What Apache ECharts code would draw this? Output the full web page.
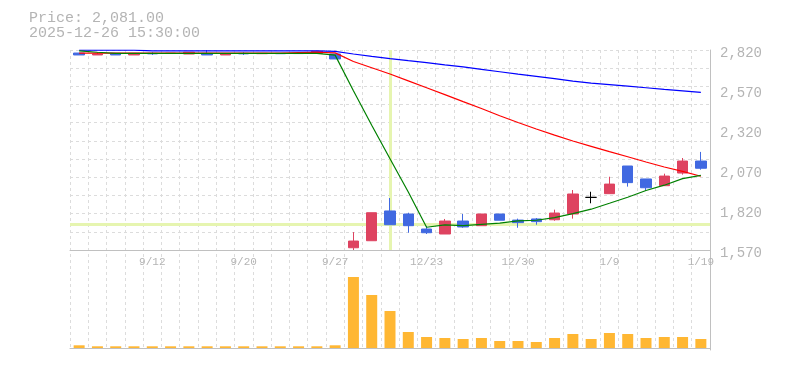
<!DOCTYPE html>
<html><head><meta charset="utf-8">
<script src="https://cdn.jsdelivr.net/npm/echarts@6/dist/echarts.min.js"></script>
<style>html,body{margin:0;padding:0;background:#fff}#c{width:785px;height:370px}</style>
</head><body><div id="c"></div>
<script>
const dates = ['9/6','9/9','9/10','9/11','9/12','9/13','9/17','9/18','9/19','9/20',
  '9/23','9/24','9/25','9/26','9/27','12/17','12/18','12/19','12/22','12/23',
  '12/24','12/25','12/26','12/29','12/30','1/5','1/6','1/7','1/8','1/9',
  '1/13','1/14','1/15','1/16','1/19'];
const opens  = [2801,2789,2799,2789,2799,2798,2795,2799,2789,2799,2797,2799,2798,2799,2795,
  1584,1628,1814,1795,1701,1670,1751,1722,1795,1757,1764,1759,1795,1899,1922,2095,2014,1972,2051,2126];
const closes = [2789,2795,2789,2799,2796,2800,2806,2789,2795,2796,2799,2797,2798,2812,2764,
  1626,1803,1728,1722,1678,1751,1714,1795,1756,1741,1747,1801,1920,1899,1982,1991,1959,2032,2126,2081];
const lows   = [2789,2789,2789,2789,2789,2798,2795,2789,2789,2789,2797,2797,2798,2799,2764,
  1570,1628,1728,1678,1670,1670,1709,1720,1756,1709,1728,1753,1766,1862,1922,1966,1941,1972,2041,2072];
const highs  = [2801,2806,2799,2799,2806,2800,2806,2820,2795,2806,2799,2799,2798,2812,2795,
  1682,1803,1895,1803,1720,1764,1795,1795,1795,1766,1770,1822,1945,1934,2028,2095,2014,2047,2145,2183];
const volumes = [27,17,17,17,17,17,17,17,17,17,17,17,17,17,27,
  710,530,370,160,110,100,90,100,70,70,60,100,140,90,150,140,100,110,110,90];
const ma5  = [2814,2806,2799,2799,2799,2799,2799,2799,2799,2799,2799,2799,2799,2799,2788,
  2565,2350,2140,1932,1712,1727,1722,1730,1738,1752,1756,1772,1797,1825,1862,1900,1942,1975,2016,2036];
const ma25 = [2800,2800,2800,2800,2800,2800,2800,2800,2800,2800,2800,2800,2803,2806,2802,
  2748,2709,2670,2627,2584,2541,2497,2454,2409,2367,2326,2288,2251,2218,2185,2153,2120,2089,2061,2031];
const ma75 = [2819,2819,2819,2819,2814,2814,2814,2814,2814,2814,2814,2814,2814,2814,2811,
  2795,2780,2766,2753,2741,2727,2714,2699,2684,2669,2655,2641,2626,2613,2604,2594,2584,2574,2565,2555];
const priceTicks = [1570,1820,2070,2320,2570,2820];
const crossIndex = 17;
const crossPrice = 1732;
const infoLines = ['Price: 2,081.00', '2025-12-26 15:30:00'];

const FONT = 'Liberation Mono';
const TXT = '#b4b4b4';
const AXIS = '#c0c0c0';
const GRIDC = '#dcdcdc';
const UP = '#de4360', DOWN = '#4169e1';

const candles = dates.map((d, i) => [opens[i], closes[i], lows[i], highs[i]]);
const fmt = v => v.toLocaleString('en-US');

const chart = echarts.init(document.getElementById('c'), null, {renderer: 'canvas'});
chart.setOption({
  animation: false,
  backgroundColor: '#fff',
  graphic: [
    {type: 'text', left: 29, top: 11, style: {text: infoLines[0], font: '15px "' + FONT + '"', fill: TXT}},
    {type: 'text', left: 29, top: 26, style: {text: infoLines[1], font: '15px "' + FONT + '"', fill: TXT}}
  ],
  grid: [
    {left: 70, top: 50, width: 640, height: 200},
    {left: 70, top: 270, width: 640, height: 80},
    {left: 70, top: 50, width: 640, height: 300}
  ],
  xAxis: [
    {type: 'category', gridIndex: 0, data: dates, boundaryGap: true,
     axisLine: {show: true, lineStyle: {color: AXIS, width: 1}}, axisTick: {show: false},
     axisLabel: {interval: (i) => i % 5 === 4, color: TXT, fontFamily: FONT, fontSize: 11, margin: 7},
     splitLine: {show: false}},
    {type: 'category', gridIndex: 1, data: dates, boundaryGap: true,
     axisLine: {show: true, lineStyle: {color: AXIS, width: 1}}, axisTick: {show: false},
     axisLabel: {show: false}, splitLine: {show: false}},
    {type: 'category', gridIndex: 2, data: dates, boundaryGap: true,
     axisLine: {show: false}, axisTick: {show: false}, axisLabel: {show: false},
     splitLine: {show: true, interval: 0, lineStyle: {color: GRIDC, type: [3, 3], width: 1}}}
  ],
  yAxis: [
    {type: 'value', gridIndex: 0, min: 1570, max: 2820, show: false, splitLine: {show: false}},
    {type: 'value', gridIndex: 0, position: 'right', min: 0, max: priceTicks[priceTicks.length - 1] - priceTicks[0], interval: 250,
     axisLine: {show: false}, axisTick: {show: false}, splitLine: {show: false},
     axisLabel: {margin: 10,
       formatter: (v, i) => '{p|' + fmt(priceTicks[i]) + '}',
       rich: {p: {color: TXT, fontFamily: FONT, fontSize: 14, padding: [6, 0, 0, 0]}}}},
    {type: 'value', gridIndex: 0, position: 'left', min: 0, max: 11, interval: 1,
     axisLine: {show: false}, axisTick: {show: false}, axisLabel: {show: false},
     splitLine: {show: true, lineStyle: {color: GRIDC, type: [3, 3], width: 1}}},
    {type: 'value', gridIndex: 1, min: -20, max: 780, show: false, splitLine: {show: false}},
    {type: 'value', gridIndex: 2, position: 'right', min: 0, max: 1,
     axisLine: {show: true, lineStyle: {color: AXIS, width: 1}}, axisTick: {show: false},
     axisLabel: {show: false}, splitLine: {show: false}}
  ],
  series: [
    {type: 'line', xAxisIndex: 0, yAxisIndex: 0, data: [], z: 1, silent: true,
     markLine: {z: 1, symbol: 'none', silent: true, animation: false, label: {show: false},
       lineStyle: {color: '#e6f5b0', width: 3, type: 'solid'},
       data: [{xAxis: dates[crossIndex]}, {yAxis: crossPrice}]}},
    {type: 'candlestick', xAxisIndex: 0, yAxisIndex: 0, data: candles, barWidth: 11, z: 3,
     itemStyle: {color: UP, color0: DOWN, borderColor: UP, borderColor0: DOWN, borderColorDoji: '#000', borderWidth: 1}},
    {type: 'line', xAxisIndex: 0, yAxisIndex: 0, data: ma75, symbol: 'none', z: 4,
     lineStyle: {color: '#0000ff', width: 1.2}},
    {type: 'line', xAxisIndex: 0, yAxisIndex: 0, data: ma25, symbol: 'none', z: 4,
     lineStyle: {color: '#ff0000', width: 1.2}},
    {type: 'line', xAxisIndex: 0, yAxisIndex: 0, data: ma5, symbol: 'none', z: 4,
     lineStyle: {color: '#008000', width: 1.2}},
    {type: 'bar', xAxisIndex: 1, yAxisIndex: 3, data: volumes, barWidth: 11,
     itemStyle: {color: '#ffb733'}}
  ]
});
</script>
</body></html>
